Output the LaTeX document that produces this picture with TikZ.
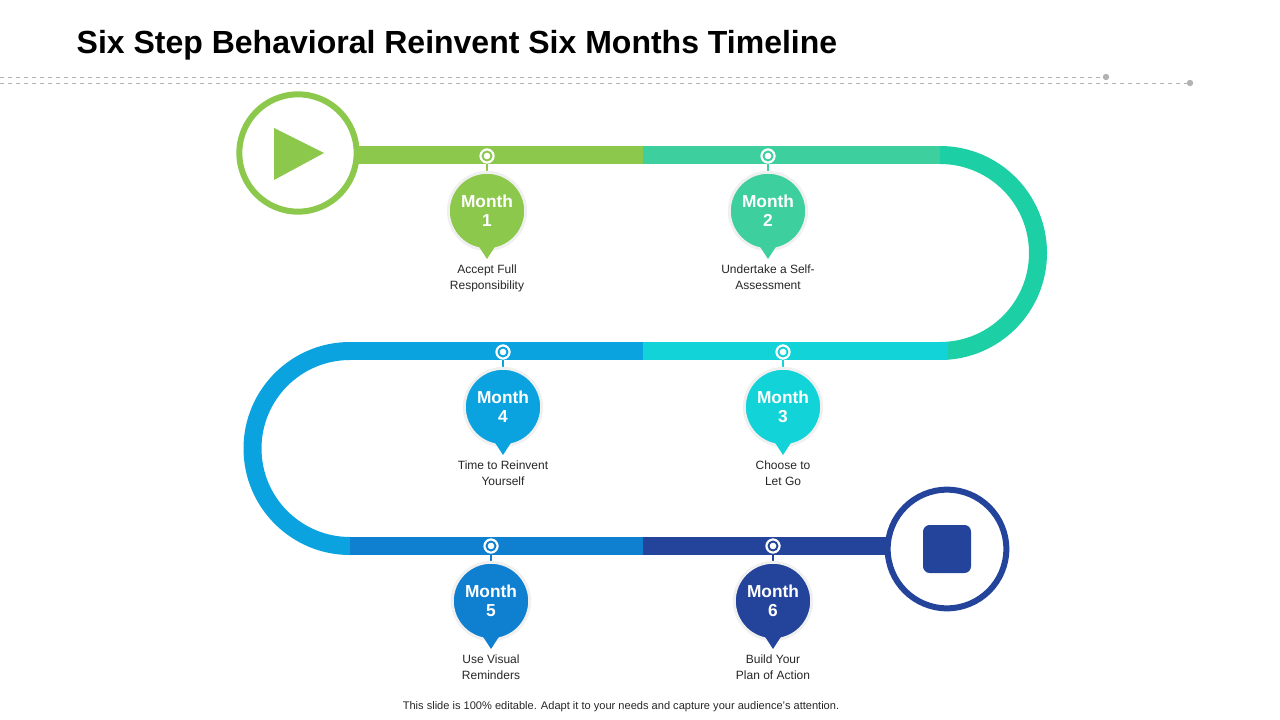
\documentclass[tikz,border=0pt]{standalone}
\usepackage{fontspec}
\setmainfont{Liberation Sans}
\usetikzlibrary{positioning}
\definecolor{cA}{HTML}{8CC84B}
\definecolor{cB}{HTML}{3ECF9E}
\definecolor{cC}{HTML}{12D3D8}
\definecolor{cD}{HTML}{0BA3DF}
\definecolor{cE}{HTML}{0F7FCF}
\definecolor{cF}{HTML}{23449A}
\definecolor{cArc}{HTML}{1CCFA4}
\begin{document}
\begin{tikzpicture}
[x=0.75pt,y=-0.75pt,
 track/.style={line width=13.5pt},
 ring/.style={circle,draw=black!6,line width=2.2pt,minimum size=58pt,inner sep=0pt,
   text=white,font=\bfseries\fontsize{13}{14}\selectfont,align=center},
 hook/.style={circle,draw=white,fill=white,minimum size=11pt,inner sep=0pt},
 lbl/.style={font=\fontsize{9}{11.5}\selectfont,align=center,text=black!85}]
\useasboundingbox (0,0) rectangle (1280,720);
\node[anchor=west,font=\bfseries\fontsize{24}{28}\selectfont] (title) at (72,45) {Six Step Behavioral Reinvent Six Months Timeline};
\draw[gray!60,dashed,line width=0.6pt] (0,77) -- (1106,77);
\draw[gray!60,dashed,line width=0.6pt] (0,83) -- (1190,83);
\fill[gray!60] (1106,77) circle (3.2) (1190,83) circle (3.2);
% track
\draw[track,cA] (358,155) -- (643,155);
\draw[track,cB] (643,155) -- (940,155);
\draw[track,cArc] (940,155) arc[start angle=-90,end angle=90,radius=98];
\draw[track,cC] (643,351) -- (948,351);
\draw[track,cD] (350,351) -- (643,351);
\draw[track,cD] (350,351) arc[start angle=-90,end angle=-270,radius=97.5];
\draw[track,cE] (350,546) -- (643,546);
\draw[track,cF] (643,546) -- (890,546);
% start and end
\node[circle,draw=cA,line width=4.5pt,fill=white,minimum size=88pt] (start) at (298,153) {};
\fill[cA] (274,128) -- (324,153) -- (274,180) -- cycle;
\node[circle,draw=cF,line width=4.5pt,fill=white,minimum size=89pt] (stop) at (947,549) {};
\node[fill=cF,rounded corners=5pt,minimum size=36pt] (stopbox) at (947,549) {};
% months
\foreach \n/\hx/\hy/\c/\txt in {
  1/487/156/cA/{Accept Full\\Responsibility},
  2/768/156/cB/{Undertake a Self-\\Assessment},
  4/503/352/cD/{Time to Reinvent\\Yourself},
  3/783/352/cC/{Choose to\\Let Go},
  5/491/546/cE/{Use Visual\\Reminders},
  6/773/546/cF/{Build Your\\Plan of Action}} {
  \node[hook] (h\n) at (\hx,\hy) {};
  \fill[\c] (h\n) circle (5.5);
  \fill[white] (h\n) circle (3.3);
  \draw[\c,line width=2pt] (h\n.south) -- ++(0,12);
  \node[ring,fill=\c] (m\n) at (\hx,\hy+55) {Month\\\n};
  \fill[\c] (\hx-11,\hy+86) -- (\hx+11,\hy+86) -- (\hx,\hy+103) -- cycle;
  \node[lbl,below=7pt of m\n] (t\n) {\txt};
}
\node[font=\fontsize{8.3}{10}\selectfont,text=black!85] (foot) at (621,707) {This slide is 100\% editable. Adapt it to your needs and capture your audience's attention.};
\end{tikzpicture}
\end{document}
